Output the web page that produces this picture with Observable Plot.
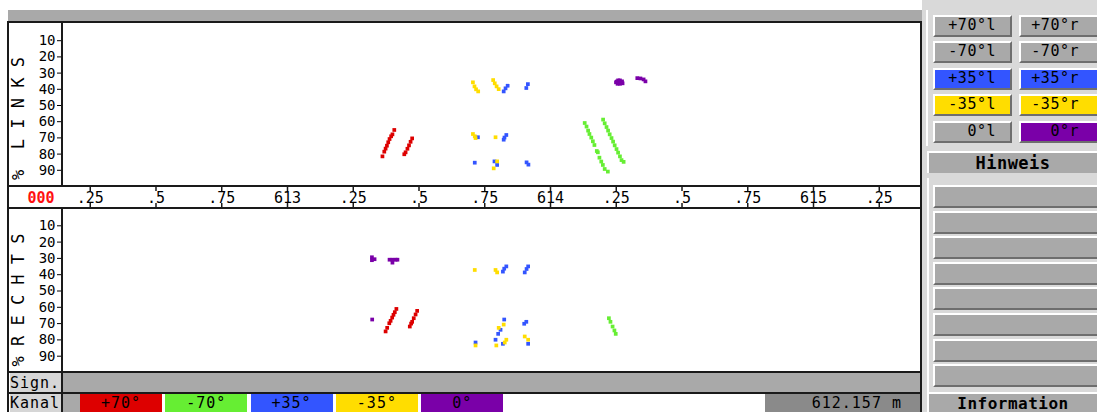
<!DOCTYPE html>
<html><head><meta charset="utf-8">
<script src="https://cdn.jsdelivr.net/npm/d3@7"></script>
<script src="https://cdn.jsdelivr.net/npm/@observablehq/plot@0.6"></script>
<style>
html,body{margin:0;padding:0;background:#fff;}
#root{position:relative;width:1097px;height:412px;overflow:hidden;background:#fff;font-family:"DejaVu Sans Mono",monospace;font-size:15px;color:#000;}
.abs{position:absolute;box-sizing:border-box;}
.hl{position:absolute;background:#1a1a1a;height:2px;}
.vl{position:absolute;background:#1a1a1a;width:2px;}
.btn{position:absolute;box-sizing:border-box;background:#a9a9a9;border-top:2px solid #fff;border-left:2px solid #fff;border-bottom:2px solid #6e6e6e;border-right:2px solid #6e6e6e;text-align:right;line-height:17px;letter-spacing:0.5px;}
.kbox{position:absolute;box-sizing:border-box;top:394px;height:18px;width:82px;text-align:center;line-height:18px;letter-spacing:1px;}
.hdr{position:absolute;box-sizing:border-box;background:#a9a9a9;text-align:center;font-weight:bold;font-size:17px;letter-spacing:0.5px;border-top:2px solid #fff;border-left:2px solid #fff;white-space:nowrap;}
</style></head>
<body>
<div id="root"></div>
<script>
// ---------- data ----------
const channels = ["+70°", "-70°", "+35°", "-35°", "0°"];
const channelColors = ["#dd0000", "#66ee33", "#3355ff", "#ffdd00", "#7a00a8"];
const depthTicks = [10, 20, 30, 40, 50, 60, 70, 80, 90];
const posTicks = [612.25, 612.5, 612.75, 613, 613.25, 613.5, 613.75, 614, 614.25, 614.5, 614.75, 615, 615.25];
const startLabel = "000";
const positionReadout = "612.157 m";

// LINKS (left rail) : position in m, amplitude/depth in %
const linksP70Pos = [613.406, 613.399, 613.394, 613.388, 613.383, 613.378, 613.373, 613.368, 613.361, 613.474, 613.468, 613.462, 613.456, 613.449, 613.444];
const linksP70Pct = [65.1, 67.8, 69.0, 70.7, 72.7, 74.8, 76.6, 78.5, 81.4, 70.3, 72.4, 74.6, 76.7, 78.9, 80.1];
const linksM70Pos = [614.130, 614.137, 614.143, 614.148, 614.155, 614.161, 614.167, 614.176, 614.180, 614.186, 614.193, 614.199, 614.206, 614.218, 614.200, 614.206, 614.213, 614.219, 614.225, 614.232, 614.238, 614.244, 614.251, 614.257, 614.264, 614.270, 614.278];
const linksM70Pct = [60.8, 63.0, 65.5, 67.6, 69.8, 72.1, 74.4, 78.1, 78.9, 82.2, 84.6, 86.7, 89.2, 90.8, 58.7, 61.0, 63.3, 65.5, 67.8, 70.1, 72.3, 74.6, 76.9, 79.1, 81.4, 83.7, 84.8];
const linksP35Pos = [613.837, 613.829, 613.822, 613.914, 613.908, 613.724, 613.832, 613.825, 613.822, 613.712, 613.787, 613.797, 613.909, 613.916];
const linksP35Pct = [37.8, 39.4, 41.3, 36.8, 39.2, 69.6, 68.2, 69.8, 71.1, 85.3, 84.5, 86.7, 85.1, 86.5];
const linksM35Pos = [613.705, 613.711, 613.717, 613.725, 613.782, 613.788, 613.795, 613.803, 613.705, 613.712, 613.715, 613.791, 613.797, 613.784];
const linksM35Pct = [35.7, 38.2, 40.0, 41.3, 34.3, 36.3, 38.2, 39.9, 67.6, 69.0, 70.1, 69.6, 84.5, 88.8];
const links0Pos = [614.249, 614.257, 614.264, 614.272, 614.255, 614.264, 614.274, 614.252, 614.330, 614.342, 614.354, 614.361];
const links0Pct = [35.7, 34.5, 34.5, 35.1, 36.6, 36.6, 36.3, 35.2, 33.1, 33.3, 33.9, 35.1];

// RECHTS (right rail)
const rechtsP70Pos = [613.414, 613.408, 613.403, 613.398, 613.392, 613.387, 613.379, 613.373, 613.493, 613.487, 613.480, 613.474, 613.470, 613.465];
const rechtsP70Pct = [61.0, 63.0, 64.6, 66.3, 68.3, 69.8, 72.6, 74.8, 62.2, 64.4, 66.7, 68.9, 70.0, 71.8];
const rechtsM70Pos = [614.222, 614.228, 614.236, 614.243, 614.248];
const rechtsM70Pct = [66.7, 68.9, 71.8, 74.2, 76.3];
const rechtsP35Pos = [613.832, 613.824, 613.819, 613.915, 613.909, 613.902, 613.824, 613.810, 613.801, 613.791, 613.819, 613.715, 613.908, 613.900, 613.915];
const rechtsP35Pct = [34.9, 36.3, 38.1, 34.9, 36.5, 38.6, 67.5, 73.8, 76.3, 79.9, 82.4, 81.6, 68.9, 70.1, 82.4];
const rechtsM35Pos = [613.712, 613.791, 613.797, 613.822, 613.803, 613.832, 613.826, 613.794, 613.715, 613.902, 613.915];
const rechtsM35Pct = [37.1, 37.1, 38.6, 70.6, 72.6, 79.9, 81.6, 83.4, 83.4, 77.9, 79.9];
const rechts0Pos = [613.321, 613.321, 613.331, 613.388, 613.399, 613.411, 613.418, 613.399, 613.322];
const rechts0Pct = [29.3, 31.1, 30.5, 30.8, 30.8, 30.8, 30.8, 32.6, 67.5];

const buttonLabelsL = ["+70°l", "-70°l", "+35°l", "-35°l", "0°l"];
const buttonLabelsR = ["+70°r", "-70°r", "+35°r", "-35°r", "0°r"];
const buttonActiveL = [false, false, true, true, false];
const buttonActiveR = [false, false, true, true, true];

// ---------- build ----------
function rows(channel, pos, pct) { return pos.map((p, i) => ({channel, pos: p, pct: pct[i]})); }
const linksData = [
  ...rows("+70°", linksP70Pos, linksP70Pct), ...rows("-70°", linksM70Pos, linksM70Pct),
  ...rows("+35°", linksP35Pos, linksP35Pct), ...rows("-35°", linksM35Pos, linksM35Pct),
  ...rows("0°", links0Pos, links0Pct)];
const rechtsData = [
  ...rows("+70°", rechtsP70Pos, rechtsP70Pct), ...rows("-70°", rechtsM70Pos, rechtsM70Pct),
  ...rows("+35°", rechtsP35Pos, rechtsP35Pct), ...rows("-35°", rechtsM35Pos, rechtsM35Pct),
  ...rows("0°", rechts0Pos, rechts0Pct)];

const root = document.getElementById("root");
function add(html) { root.insertAdjacentHTML("beforeend", html); }
function place(el, x, y) { el.style.position = "absolute"; el.style.left = x + "px"; el.style.top = y + "px"; root.appendChild(el); }

const xDomain = [612.1445, 615.4144];
const fontStyle = {fontFamily: "'DejaVu Sans Mono', monospace", fontSize: "14px", background: "transparent", overflow: "visible", color: "#000"};

function railPlot(data, label, marginTop, labelDy) {
  return Plot.plot({
    width: 914, height: 164, marginLeft: 54, marginRight: 0, marginTop, marginBottom: 0,
    x: {domain: xDomain, axis: null},
    y: {domain: [0, 100], reverse: true, ticks: depthTicks, tickSize: 5, tickPadding: 2, label: null},
    color: {domain: channels, range: channelColors},
    style: fontStyle,
    marks: [
      Plot.dot(data, {x: "pos", y: "pct", fill: "channel", symbol: "square", r: 2.1}),
      Plot.text([label], {text: d => d, frameAnchor: "left", dx: -44, dy: labelDy, rotate: -90, fontSize: 17, textAnchor: "middle", fill: "#000"})
    ]
  });
}

// top grey strip
add(`<div class="abs" style="left:8px;top:10px;width:914px;height:12px;background:#a9a9a9"></div>`);

// plots
place(railPlot(linksData, "%  L I N K S", 2, 13), 8, 22);
place(railPlot(rechtsData, "% R E C H T S", 1, 9), 8, 208);

// position axis row
const fmt = v => Number.isInteger(v) ? String(v) : "." + String(v).split(".")[1];
const axisPlot = Plot.plot({
  width: 914, height: 22, marginLeft: 54, marginRight: 0, marginTop: 0, marginBottom: 0,
  x: {domain: xDomain, axis: null},
  y: {type: "identity", axis: null},
  style: fontStyle,
  marks: [
    Plot.ruleX(posTicks, {x: d => d, y1: 0, y2: 5, stroke: "#1a1a1a", strokeWidth: 1.5}),
    Plot.ruleX(posTicks, {x: d => d, y1: 17, y2: 22, stroke: "#1a1a1a", strokeWidth: 1.5}),
    Plot.text(posTicks, {x: d => d, y: 12, text: fmt, fontSize: 15, fill: "#000"}),
    Plot.text([startLabel], {text: d => d, frameAnchor: "left", dx: -35, dy: 1, fontSize: 15, fill: "#ff1010", fontWeight: "bold"})
  ]
});
place(axisPlot, 8, 186);

// Sign. row & Kanal row
add(`<div class="abs" style="left:62px;top:373px;width:860px;height:20px;background:#a9a9a9"></div>`);
add(`<div class="abs" style="left:10px;top:373px;width:52px;height:20px;line-height:20px;letter-spacing:1px;background:#d6d6d6">Sign.</div>`);
add(`<div class="abs" style="left:10px;top:393px;width:52px;height:19px;line-height:20px;letter-spacing:1px;background:#d6d6d6">Kanal</div>`);
add(`<div class="abs" style="left:62px;top:393px;width:18px;height:19px;background:#a9a9a9"></div>`);
channels.forEach((c, i) => {
  add(`<div class="kbox" style="left:${80 + i * 85.3}px;background:${channelColors[i]}">${c}</div>`);
});
add(`<div class="abs" style="left:765px;top:394px;width:155px;height:18px;background:#8a8a8a;text-align:right;padding-right:18px;line-height:18px;letter-spacing:1px">${positionReadout}</div>`);

// frame lines
add(`<div class="hl" style="left:8px;top:21px;width:914px"></div>`);
add(`<div class="hl" style="left:8px;top:185px;width:914px"></div>`);
add(`<div class="hl" style="left:8px;top:207px;width:914px"></div>`);
add(`<div class="hl" style="left:8px;top:371px;width:914px"></div>`);
add(`<div class="hl" style="left:8px;top:392px;width:914px"></div>`);
add(`<div class="vl" style="left:7px;top:21px;height:391px"></div>`);
add(`<div class="vl" style="left:61px;top:21px;height:166px"></div>`);
add(`<div class="vl" style="left:61px;top:207px;height:205px"></div>`);
add(`<div class="vl" style="left:920px;top:21px;height:391px"></div>`);

// right control panel
add(`<div class="abs" style="left:922px;top:0px;width:175px;height:412px;background:#d9d9d9"></div>`);
add(`<div class="abs" style="left:926px;top:10px;width:2px;height:136px;background:#fff"></div>`);
buttonLabelsL.forEach((t, i) => {
  const bg = buttonActiveL[i] ? channelColors[channels.indexOf(t.slice(0, -1))] : "#a9a9a9";
  add(`<div class="btn" style="left:933px;top:${15 + i * 26.4}px;width:79px;height:22px;padding-right:14px;background:${bg}">${t}</div>`);
});
buttonLabelsR.forEach((t, i) => {
  const bg = buttonActiveR[i] ? channelColors[channels.indexOf(t.slice(0, -1))] : "#a9a9a9";
  add(`<div class="btn" style="left:1019px;top:${15 + i * 26.4}px;width:80px;height:22px;padding-right:18px;background:${bg}">${t}</div>`);
});
add(`<div class="hdr" style="left:927px;top:151px;width:170px;height:22px;line-height:20px">Hinweis</div>`);
add(`<div class="abs" style="left:927px;top:178px;width:2px;height:214px;background:#fff"></div>`);
for (let i = 0; i < 8; i++) {
  add(`<div class="btn" style="left:933px;top:${185 + i * 25.6}px;width:166px;height:23px"></div>`);
}
add(`<div class="hdr" style="left:927px;top:392px;width:170px;height:20px;line-height:19px;font-size:16px">Information</div>`);
</script>
</body></html>
